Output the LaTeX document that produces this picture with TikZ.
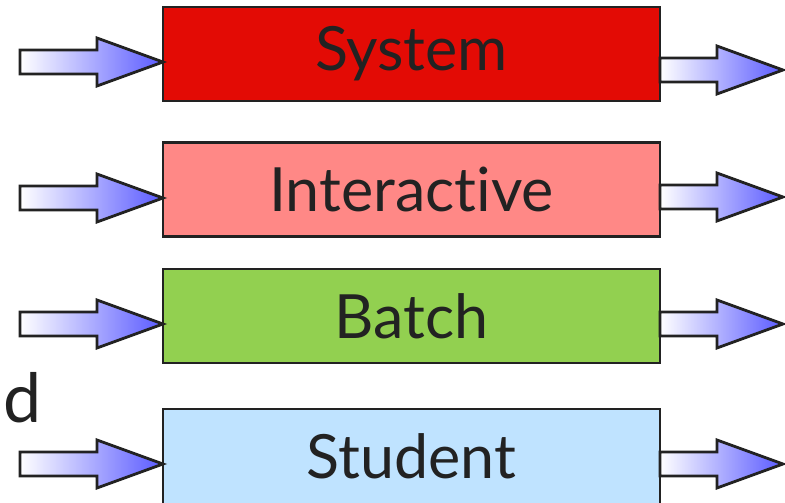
\documentclass[tikz,border=0pt]{standalone}
\usepackage{fontspec}
\setmainfont[RawFeature={-liga;-dlig}]{Lato}
\definecolor{sysred}{HTML}{E30B05}
\definecolor{interpink}{HTML}{FF8886}
\definecolor{batchgreen}{HTML}{92D050}
\definecolor{studentblue}{HTML}{BFE3FF}
\definecolor{arrowblue}{HTML}{5A5AFF}
\definecolor{edgegray}{HTML}{222222}
\tikzset{
  box/.style={draw=edgegray, line width=2.5pt, rectangle, inner sep=0pt,
    minimum width=497pt, minimum height=94pt, text=edgegray,
    font=\fontsize{61}{61}\selectfont},
  fatarrow/.style={draw=edgegray, line width=2.8pt, line join=miter,
    left color=white, right color=arrowblue}
}
\begin{document}
\begin{tikzpicture}[x=1pt,y=1pt]
\useasboundingbox (0,0) rectangle (785,503);
\clip (0,0) rectangle (785,503);
% boxes
\node[box, fill=sysred] (system) at (411.5,449) {System};
\node[box, fill=interpink] (inter) at (411.5,313.5) {Interactive};
\node[box, fill=batchgreen] (batch) at (411.5,187) {Batch};
\node[box, fill=studentblue, minimum height=110pt] (student) at (411.5,39) {};
\node[text=edgegray, font=\fontsize{61}{61}\selectfont, inner sep=0pt] (studentlbl) at (411.5,47) {Student};
% partial text
\node[anchor=base east, inner sep=0pt, text=edgegray, font=\fontsize{68}{68}\selectfont] (dtext) at (42,80) {d};
% left arrows (tip at box west edge)
\foreach \b/\ty in {system/441, inter/305, batch/179, student/39}{
  \coordinate (tip) at (163,\ty);
  \path[fatarrow] (tip) -- ++(-66,24) -- ++(0,-12) -- ++(-77,0) -- ++(0,-24) -- ++(77,0) -- ++(0,-12) -- cycle;
}
% right arrows (start at box east edge)
\foreach \b/\ty in {system/433, inter/306, batch/179, student/39}{
  \coordinate (start) at (660,\ty);
  \path[fatarrow] (start) ++(0,12) -- ++(57,0) -- ++(0,12) -- ++(66,-24) -- ++(-66,-24) -- ++(0,12) -- ++(-57,0) -- cycle;
}
\end{tikzpicture}
\end{document}
